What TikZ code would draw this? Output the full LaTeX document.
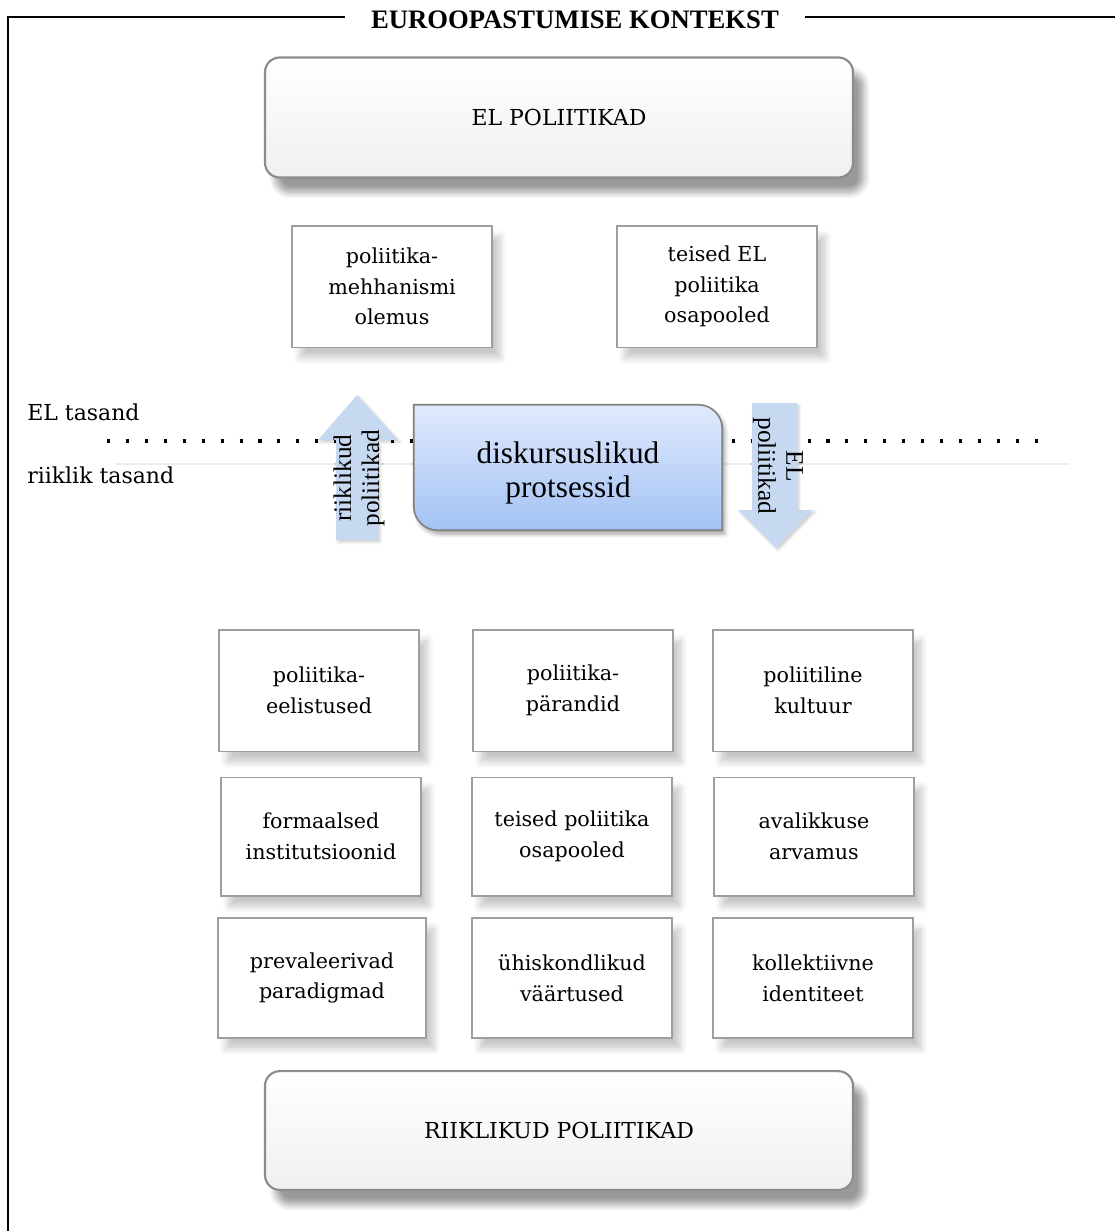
\documentclass[tikz,border=0pt]{standalone}
\usepackage{fontspec}
\setmainfont{DejaVu Serif}
\newfontfamily\tnr{Liberation Serif}
\usetikzlibrary{shadows.blur,calc}
\definecolor{arrowblue}{HTML}{C6D9F1}
\definecolor{disktop}{HTML}{E0EAFC}
\definecolor{diskbot}{HTML}{A3C2F5}
\definecolor{edgegray}{HTML}{8C8C8C}
\begin{document}
\begin{tikzpicture}[x=0.75pt,y=-0.75pt,
  bigbox/.style={draw=edgegray, line width=1.6pt, rounded corners=11pt,
    top color=white, bottom color=black!6, minimum width=441pt, minimum height=90pt,
    font=\fontsize{16.5}{20}\selectfont,
    blur shadow={shadow xshift=8pt, shadow yshift=-11pt, shadow blur radius=5pt, shadow blur steps=8, shadow opacity=40}},
  smallbox/.style={draw=black!38, line width=1pt, fill=white, minimum width=150pt,
    minimum height=91pt, align=center, font=\fontsize{15.5}{23}\selectfont,
    blur shadow={shadow xshift=6pt, shadow yshift=-8pt, shadow blur radius=5pt, shadow blur steps=8, shadow opacity=22}},
  arrowshape/.style={fill=arrowblue,
    blur shadow={shadow xshift=1.5pt, shadow yshift=-1.5pt, shadow blur radius=2pt, shadow blur steps=4, shadow opacity=20}},
  arrowtext/.style={font=\tnr\fontsize{19}{21}\selectfont, align=center, inner sep=0pt},
  level/.style={anchor=west, font=\fontsize{16.5}{20}\selectfont, inner sep=0pt},
  frameline/.style={line width=1.5pt, black},
  dotline/.style={line width=2.3pt, dash pattern=on 2.3pt off 11.9pt, black}
]
\useasboundingbox (0,0) rectangle (1114,1231);

% frame and title
\node[font=\tnr\bfseries\fontsize{20}{22}\selectfont, inner sep=0pt] (title) at (575,20) {EUROOPASTUMISE KONTEKST};
\coordinate (fbot) at (8,1240);
\coordinate (fcorner) at (8,17);
\coordinate (fl) at (345,17);
\coordinate (fr1) at (805,17);
\coordinate (fr2) at (1120,17);
\draw[frameline] (fbot) -- (fcorner) -- (fl);
\draw[frameline] (fr1) -- (fr2);

% level lines
\coordinate (thinA) at (115,464);
\coordinate (thinB) at (1070,464);
\draw[black!7, line width=0.8pt] (thinA) -- (thinB);
\coordinate (dotA) at (107,441);
\coordinate (dotB) at (1042,441);
\draw[dotline] (dotA) -- (dotB);
\node[level] (eltasand) at (27,412) {EL tasand};
\node[level] (riiktasand) at (27,475) {riiklik tasand};

% top boxes
\node[bigbox] (elpol) at (559,117.5) {EL POLIITIKAD};
\node[smallbox] (mech) at (392,286.5) {poliitika-\\mehhanismi\\olemus};
\node[smallbox] (teisedel) at (717,286.5) {teised EL\\poliitika\\osapooled};

% arrows
\path[arrowshape] (357,395) -- (398,440) -- (378,440) -- (378,540) -- (336,540) -- (336,440) -- (318,440) -- cycle;
\node[arrowtext, rotate=90] (uptext) at (359,478) {riiklikud\\poliitikad};
\path[arrowshape] (752,403) -- (797,403) -- (797,510) -- (813,510) -- (776,548) -- (738,510) -- (752,510) -- cycle;
\node[arrowtext, rotate=-90] (dntext) at (778,466) {EL\\poliitikad};

% central box
\node[minimum width=231pt, minimum height=93.75pt, inner sep=0pt] (disk) at (568,467.5) {};
\path[blur shadow={shadow xshift=2pt, shadow yshift=-3pt, shadow blur radius=3pt, shadow blur steps=5, shadow opacity=35},
  draw=black!50, line width=1.2pt, top color=disktop, bottom color=diskbot]
  (disk.north west) -- ([xshift=-18pt]disk.north east)
  arc[start angle=90, end angle=0, radius=18pt] -- (disk.south east)
  -- ([xshift=18pt]disk.south west) arc[start angle=270, end angle=180, radius=18pt] -- cycle;
\node[font=\tnr\fontsize{23.5}{25.5}\selectfont, align=center] (disktext) at ([yshift=-4pt]disk.center) {diskursuslikud\\protsessid};

% grid of national factors
\node[smallbox] (r1c1) at (319,690.5) {poliitika-\\eelistused};
\node[smallbox] (r1c2) at (573,690.5) {poliitika-\\pärandid};
\node[smallbox] (r1c3) at (813,690.5) {poliitiline\\kultuur};
\node[smallbox, minimum height=89pt] (r2c1) at (321,836.5) {formaalsed\\institutsioonid};
\node[smallbox, minimum height=89pt] (r2c2) at (572,836.5) {teised poliitika\\osapooled};
\node[smallbox, minimum height=89pt] (r2c3) at (814,836.5) {avalikkuse\\arvamus};
\node[smallbox, minimum height=90pt, minimum width=156pt] (r3c1) at (322,978) {prevaleerivad\\paradigmad};
\node[smallbox, minimum height=90pt] (r3c2) at (572,978) {ühiskondlikud\\väärtused};
\node[smallbox, minimum height=90pt] (r3c3) at (813,978) {kollektiivne\\identiteet};

\node[bigbox, minimum height=89pt] (riikpol) at (559,1130.5) {RIIKLIKUD POLIITIKAD};
\end{tikzpicture}
\end{document}
